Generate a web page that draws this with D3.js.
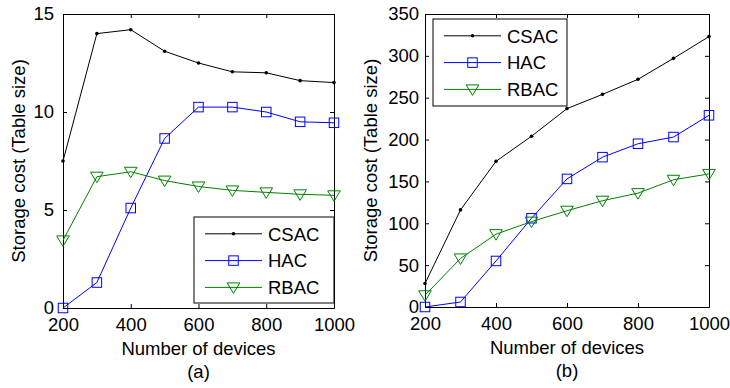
<!DOCTYPE html>
<html>
<head>
<meta charset="utf-8">
<script src="https://cdn.jsdelivr.net/npm/d3@7"></script>
<style>
  body { margin: 0; background: #fff; }
  svg { font-family: "Liberation Sans", Arial, sans-serif; }
</style>
</head>
<body>
<div id="chart"></div>
<script>
// x values shared by both panels
var devices = [200, 300, 400, 500, 600, 700, 800, 900, 1000];

// panel (a)
var csacA = [7.5, 14.0, 14.2, 13.1, 12.5, 12.05, 12.0, 11.6, 11.5];
var hacA  = [0, 1.3, 5.1, 8.65, 10.25, 10.25, 10.0, 9.5, 9.45];
var rbacA = [3.45, 6.7, 6.95, 6.5, 6.2, 6.0, 5.9, 5.8, 5.75];
var yTicksA = [0, 5, 10, 15];

// panel (b)
var csacB = [28, 116, 174, 204, 237, 254, 272, 297, 323];
var hacB  = [0, 6, 55, 106, 153, 179, 195, 203, 229];
var rbacB = [14, 58, 87, 102, 115, 127, 136, 152, 159];
var yTicksB = [0, 50, 100, 150, 200, 250, 300, 350];

var xTicks = [200, 400, 600, 800, 1000];
var seriesNames = ["CSAC", "HAC", "RBAC"];
var colors = {"CSAC": "#000000", "HAC": "#0000ff", "RBAC": "#008000"};
var fontSize = 18.5;

var svg = d3.select("#chart").append("svg")
    .attr("width", 730)
    .attr("height", 388);

function drawPanel(opt){
    var x = d3.scaleLinear().domain([200, 1000]).range([opt.left, opt.right]);
    var y = d3.scaleLinear().domain([0, opt.yMax]).range([opt.bottom, opt.top]);
    var g = svg.append("g");

    // axes with inward ticks (box style)
    g.append("g")
        .attr("transform", "translate(0," + opt.bottom + ")")
        .call(d3.axisBottom(x).tickValues(xTicks).tickFormat(d3.format("d"))
            .tickSizeInner(-4).tickSizeOuter(0).tickPadding(10));
    g.append("g")
        .attr("transform", "translate(0," + opt.top + ")")
        .call(d3.axisTop(x).tickValues(xTicks).tickSizeInner(-4).tickSizeOuter(0).tickFormat(""));
    g.append("g")
        .attr("transform", "translate(" + opt.left + ",0)")
        .call(d3.axisLeft(y).tickValues(opt.yTicks).tickSizeInner(-4).tickSizeOuter(0).tickPadding(opt.yPad));
    g.append("g")
        .attr("transform", "translate(" + opt.right + ",0)")
        .call(d3.axisRight(y).tickValues(opt.yTicks).tickSizeInner(-4).tickSizeOuter(0).tickFormat(""));
    g.selectAll(".domain").attr("stroke", "#000");
    g.selectAll(".tick line").attr("stroke", "#000");
    g.selectAll(".tick text").attr("font-size", fontSize).attr("fill", "#000")
        .style("font-family", "Liberation Sans, Arial, sans-serif");

    var line = d3.line()
        .x(function(d, i){ return x(devices[i]); })
        .y(function(d){ return y(d); });

    var data = {"CSAC": opt.csac, "HAC": opt.hac, "RBAC": opt.rbac};
    seriesNames.forEach(function(name){
        g.append("path")
            .datum(data[name])
            .attr("d", line)
            .attr("fill", "none")
            .attr("stroke", colors[name])
            .attr("stroke-width", 1);
        var pts = g.selectAll(null).data(data[name]).enter();
        drawMarker(pts, name, function(d, i){ return x(devices[i]); }, function(d){ return y(d); });
    });

    // axis labels
    g.append("text")
        .attr("x", (opt.left + opt.right) / 2)
        .attr("y", opt.bottom + 47)
        .attr("text-anchor", "middle")
        .attr("font-size", fontSize)
        .text("Number of devices");
    g.append("text")
        .attr("transform", "translate(" + opt.yLabelX + "," + ((opt.top + opt.bottom) / 2) + ") rotate(-90)")
        .attr("text-anchor", "middle")
        .attr("font-size", fontSize)
        .text("Storage cost (Table size)");
    g.append("text")
        .attr("x", (opt.left + opt.right) / 2)
        .attr("y", opt.bottom + 70)
        .attr("text-anchor", "middle")
        .attr("font-size", fontSize)
        .text(opt.caption);

    // legend
    var lg = g.append("g");
    lg.append("rect")
        .attr("x", opt.legX).attr("y", opt.legY)
        .attr("width", opt.legW).attr("height", opt.legH)
        .attr("fill", "#fff").attr("stroke", "#000").attr("stroke-width", 1);
    seriesNames.forEach(function(name, i){
        var cy = opt.legY + 16.8 + i * 26.8;
        lg.append("line")
            .attr("x1", opt.legX + 11).attr("x2", opt.legX + 68)
            .attr("y1", cy).attr("y2", cy)
            .attr("stroke", colors[name]);
        drawMarker(lg.selectAll(null).data([0]).enter(), name,
            function(){ return opt.legX + 39.5; }, function(){ return cy; });
        lg.append("text")
            .attr("x", opt.legX + 74).attr("y", cy + 6.7)
            .attr("font-size", fontSize)
            .text(name);
    });
}

function drawMarker(sel, name, fx, fy){
    if (name == "CSAC"){
        sel.append("circle")
            .attr("cx", fx).attr("cy", fy).attr("r", 1.8)
            .attr("fill", colors[name]);
    }
    else if (name == "HAC"){
        sel.append("rect")
            .attr("x", function(d, i){ return fx(d, i) - 4.75; })
            .attr("y", function(d, i){ return fy(d, i) - 4.75; })
            .attr("width", 9.5).attr("height", 9.5)
            .attr("fill", "none").attr("stroke", colors[name]);
    }
    else {
        sel.append("path")
            .attr("transform", function(d, i){ return "translate(" + fx(d, i) + "," + fy(d, i) + ")"; })
            .attr("d", "M-6.3,-4.5L6.3,-4.5L0,6Z")
            .attr("fill", "none").attr("stroke", colors[name]);
    }
}

drawPanel({left: 63, right: 334, top: 14, bottom: 308, yMax: 15, yTicks: yTicksA, yPad: 9,
    csac: csacA, hac: hacA, rbac: rbacA, caption: "(a)", yLabelX: 25,
    legX: 194, legY: 217, legW: 140, legH: 86});
drawPanel({left: 425, right: 709, top: 14, bottom: 307, yMax: 350, yTicks: yTicksB, yPad: 6,
    csac: csacB, hac: hacB, rbac: rbacB, caption: "(b)", yLabelX: 377,
    legX: 433, legY: 19, legW: 134, legH: 87});
</script>
</body>
</html>
